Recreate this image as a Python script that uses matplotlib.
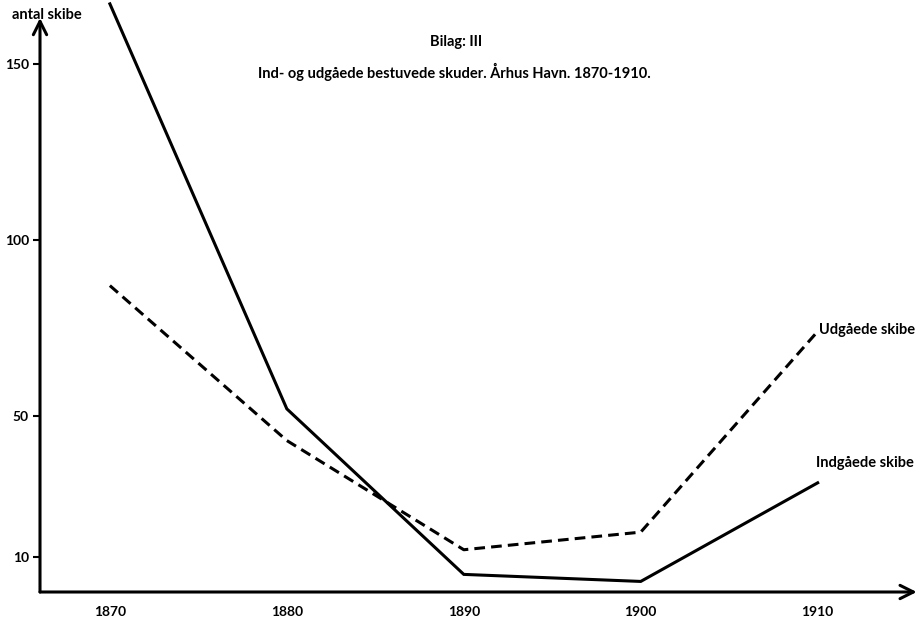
import matplotlib.pyplot as plt

# Data
aar = [1870, 1880, 1890, 1900, 1910]
indgaaede = [167, 52, 5, 3, 31]
udgaaede = [87, 43, 12, 17, 74]
y_ticks = [10, 50, 100, 150]

plt.rcParams['font.family'] = ['Lato', 'DejaVu Sans']
plt.rcParams['font.weight'] = 'bold'

W, H = 921, 621
fig = plt.figure(figsize=(W / 100, H / 100), dpi=100)
# axes placed in pixel terms: y-axis at x=40, x-axis at y=592 (from top)
ax = fig.add_axes([40 / W, (H - 592) / H, (915 - 40) / W, (592 - 25) / H])
ax.set_xlim(1866.05, 1915.5)
ax.set_ylim(0, 161)

ax.plot(aar, indgaaede, color='black', lw=2.2, clip_on=False,
        solid_joinstyle='miter')
ax.plot(aar, udgaaede, color='black', lw=2.2, linestyle=(0, (3.5, 2)),
        clip_on=False)

for s in ax.spines.values():
    s.set_visible(False)

# akser som pile
pil = dict(arrowstyle='->', lw=2.2, mutation_scale=24, color='black',
           shrinkA=0, shrinkB=0)
ax.annotate('', xy=(1915.6, 0), xytext=(1866.05, 0), arrowprops=pil,
            annotation_clip=False)
ax.annotate('', xy=(1866.05, 163), xytext=(1866.05, 0), arrowprops=pil,
            annotation_clip=False)

ax.set_yticks(y_ticks)
ax.set_yticklabels([str(v) for v in y_ticks], fontsize=10)
ax.tick_params(axis='y', direction='out', length=5, width=1.5, pad=3)
ax.set_xticks(aar)
ax.set_xticklabels([str(v) for v in aar], fontsize=10)
ax.tick_params(axis='x', length=0, pad=10)

fs = 10.5
fig.text(12 / W, 1 - 15 / H, 'antal skibe', fontsize=fs, va='center', ha='left')
fig.text(456 / W, 1 - 42 / H, 'Bilag: III', fontsize=fs, va='center', ha='center')
fig.text(454 / W, 1 - 72 / H, 'Ind- og udgåede bestuvede skuder. Århus Havn. 1870-1910.',
         fontsize=fs, va='center', ha='center')
fig.text(819 / W, 1 - 330 / H, 'Udgåede skibe', fontsize=fs, va='center', ha='left')
fig.text(816 / W, 1 - 463 / H, 'Indgåede skibe', fontsize=fs, va='center', ha='left')

fig.savefig('out.png', dpi=100)
